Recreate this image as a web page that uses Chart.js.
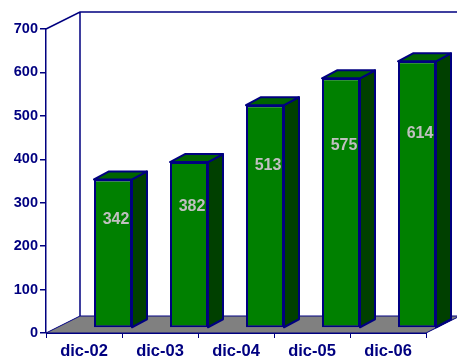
<!DOCTYPE html>
<html>
<head>
<meta charset="utf-8">
<script src="https://cdn.jsdelivr.net/npm/chart.js@4"></script>
<style>
html,body{margin:0;padding:0;background:#fff;}
#wrap{width:457px;height:360px;position:relative;}
</style>
</head>
<body>
<div id="wrap"><canvas id="c" width="457" height="360"></canvas></div>
<script>
const categories = ['dic-02', 'dic-03', 'dic-04', 'dic-05', 'dic-06'];
const values = [342, 382, 513, 575, 614];
const yTicks = [0, 100, 200, 300, 400, 500, 600, 700];

const NAVY = '#000080';
const FONT = '"Liberation Sans", Arial, sans-serif';

// 3D geometry (styling)
const WALL_DX = 34, WALL_DY = -17;   // depth of back wall / floor
const BAR_SHIFT_X = 29, BAR_SHIFT_Y = -5; // bar front plane offset
const BAR_DX = 15, BAR_DY = -8;      // bar depth

const threeD = {
  id: 'threeD',
  beforeDatasetsDraw(chart) {
    const ctx = chart.ctx;
    const a = chart.chartArea;
    ctx.save();
    ctx.strokeStyle = NAVY;
    ctx.lineWidth = 1.5;
    ctx.beginPath();
    ctx.moveTo(a.left, a.top);
    ctx.lineTo(a.left + WALL_DX, a.top + WALL_DY);
    ctx.lineTo(a.right + WALL_DX + 40, a.top + WALL_DY);
    ctx.moveTo(a.left + WALL_DX, a.top + WALL_DY);
    ctx.lineTo(a.left + WALL_DX, a.bottom + WALL_DY);
    ctx.stroke();
    ctx.beginPath();
    ctx.moveTo(a.left, a.bottom);
    ctx.lineTo(a.right, a.bottom);
    ctx.lineTo(a.right + WALL_DX, a.bottom + WALL_DY);
    ctx.lineTo(a.left + WALL_DX, a.bottom + WALL_DY);
    ctx.closePath();
    ctx.fillStyle = '#808080';
    ctx.fill();
    ctx.lineWidth = 1;
    ctx.stroke();
    ctx.restore();
  },
  beforeDatasetDraw(chart, args) {
    const ctx = chart.ctx;
    ctx.save();
    ctx.translate(BAR_SHIFT_X, BAR_SHIFT_Y);
    ctx.strokeStyle = NAVY;
    ctx.lineWidth = 2;
    ctx.lineJoin = 'round';
    args.meta.data.forEach(el => {
      const p = el.getProps(['x', 'y', 'base', 'width'], true);
      const L = p.x - p.width / 2, R = p.x + p.width / 2;
      const top = p.y, base = p.base;
      ctx.beginPath();
      ctx.moveTo(R, top);
      ctx.lineTo(R + BAR_DX, top + BAR_DY);
      ctx.lineTo(R + BAR_DX, base + BAR_DY);
      ctx.lineTo(R, base);
      ctx.closePath();
      ctx.fillStyle = '#004000';
      ctx.fill();
      ctx.stroke();
      ctx.beginPath();
      ctx.moveTo(L, top);
      ctx.lineTo(L + BAR_DX, top + BAR_DY);
      ctx.lineTo(R + BAR_DX, top + BAR_DY);
      ctx.lineTo(R, top);
      ctx.closePath();
      ctx.fillStyle = '#006400';
      ctx.fill();
      ctx.stroke();
    });
  },
  afterDatasetDraw(chart, args) {
    const ctx = chart.ctx;
    ctx.restore();
    ctx.save();
    ctx.font = 'bold 16px ' + FONT;
    ctx.fillStyle = '#c0c0c0';
    ctx.textAlign = 'center';
    ctx.textBaseline = 'middle';
    args.meta.data.forEach((el, i) => {
      const p = el.getProps(['x', 'y', 'base'], true);
      const x = p.x + BAR_SHIFT_X + 3;
      const y = p.base + BAR_SHIFT_Y - 0.73 * (p.base - p.y);
      ctx.fillText(String(values[i]), x, y);
    });
    ctx.restore();
  }
};

new Chart(document.getElementById('c'), {
  type: 'bar',
  data: {
    labels: categories,
    datasets: [{
      data: values,
      backgroundColor: '#008000',
      borderColor: NAVY,
      borderWidth: 2,
      borderSkipped: false,
      categoryPercentage: 1,
      barPercentage: 0.5,
      clip: false
    }]
  },
  options: {
    responsive: false,
    animation: false,
    events: [],
    layout: { padding: { left: 0, top: 29, right: 31, bottom: 0 } },
    plugins: { legend: { display: false }, tooltip: { enabled: false } },
    scales: {
      x: {
        offset: true,
        grid: { offset: true, drawOnChartArea: false, drawTicks: true, tickLength: 5, color: NAVY, lineWidth: 1 },
        border: { display: true, color: NAVY, width: 1 },
        ticks: { color: NAVY, font: { family: FONT, size: 16.5, weight: 'bold' }, padding: 4, maxRotation: 0 },
        afterFit(s) { s.height = 27; }
      },
      y: {
        min: 0, max: 700,
        afterBuildTicks(s) { s.ticks = yTicks.map(v => ({ value: v })); },
        grid: { drawOnChartArea: false, drawTicks: true, tickLength: 6, color: NAVY, lineWidth: 1.5 },
        border: { display: true, color: NAVY, width: 1.5 },
        ticks: { color: NAVY, font: { family: FONT, size: 14.5, weight: 'bold' }, padding: 2 },
        afterFit(s) { s.width = 46; }
      }
    }
  },
  plugins: [threeD]
});
</script>
</body>
</html>
